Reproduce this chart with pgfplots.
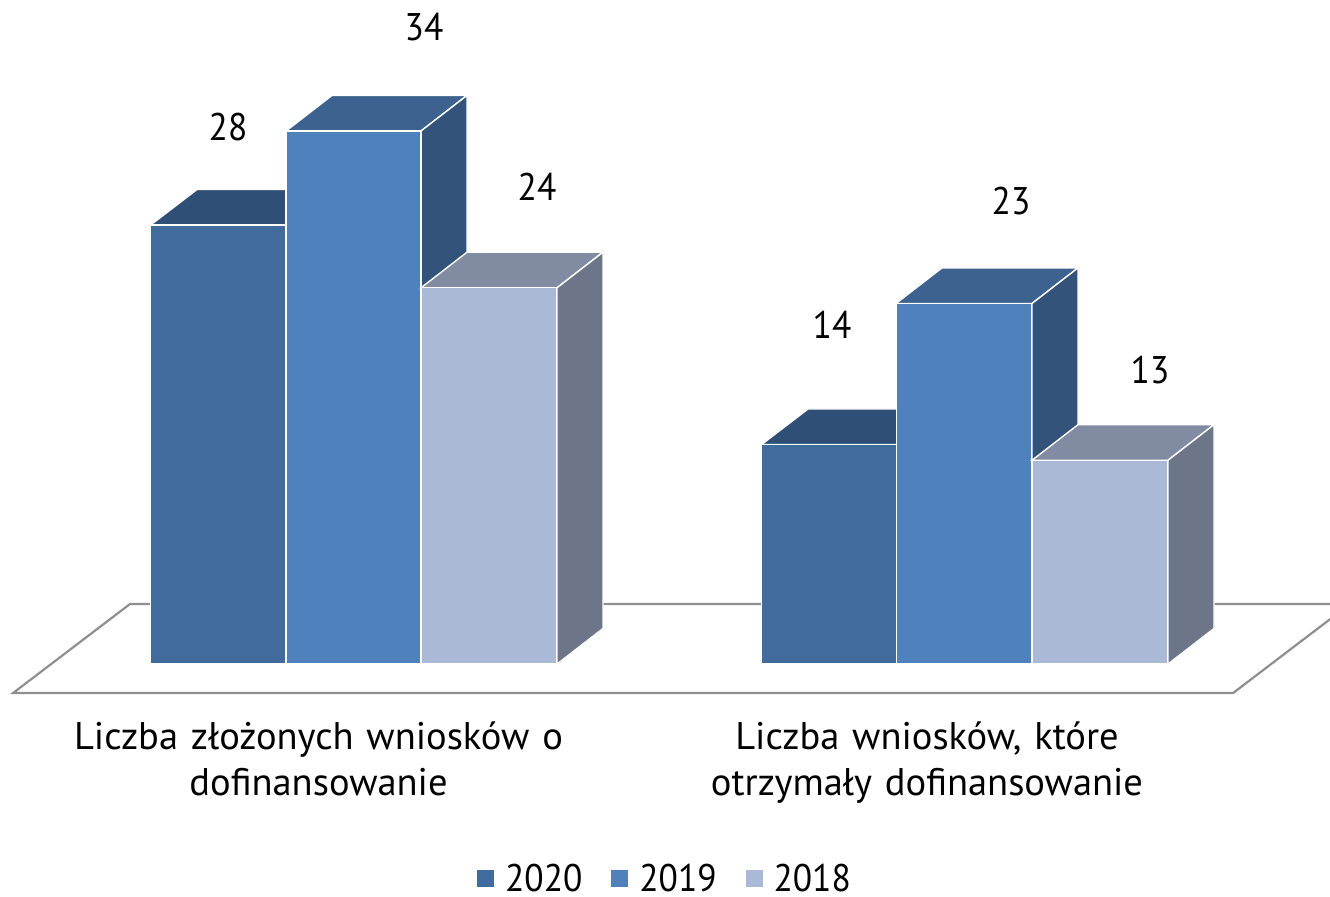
\documentclass[border=0pt]{standalone}
\usepackage{fontspec}
\setmainfont{PT Sans}[FakeStretch=0.92]
\newfontfamily\catfont{PT Sans}
\usepackage{pgfplots}
\pgfplotsset{compat=1.18}

\definecolor{front20}{HTML}{416B9C}
\definecolor{top20}{HTML}{2F4F76}
\definecolor{side20}{HTML}{2F4F76}
\definecolor{front19}{HTML}{4F81BD}
\definecolor{top19}{HTML}{3E628F}
\definecolor{side19}{HTML}{33537B}
\definecolor{front18}{HTML}{AAB9D6}
\definecolor{top18}{HTML}{818CA3}
\definecolor{side18}{HTML}{6C7688}
\definecolor{floorline}{HTML}{8F8F8F}

\newcommand{\chartfont}{\fontsize{38.5}{46.5}\selectfont}

\begin{document}
\begin{tikzpicture}
\begin{axis}[
    scale only axis,
    width=1330pt,
    height=896pt,
    xmin=0, xmax=1330,
    ymin=-14.8, ymax=42.35,
    axis line style={draw=none},
    ytick=\empty,
    xtick={318.5,927},
    xticklabels={{Liczba złożonych wniosków o\\dofinansowanie},{Liczba wniosków, które\\otrzymały dofinansowanie}},
    major tick length=0pt,
    x tick label style={font=\catfont\chartfont, align=center, text width=560pt, anchor=north, yshift=178pt},
    legend style={at={(0.5,0.02)}, anchor=center, draw=none, fill=none, font=\chartfont,
        legend columns=3,
        /tikz/every even column/.append style={column sep=27pt},
        /tikz/every odd column/.append style={column sep=9pt}},
    legend image code/.code={\path[#1,draw=none] (0pt,-9pt) rectangle (17pt,8pt);},
]
% floor of the 3D box
\addplot[forget plot, draw=floorline, line width=2.2pt] coordinates {(13,-1.85)(130,3.83)(1350,3.83)(1233,-1.85)} -- cycle;

% 2020
\addplot[forget plot, fill=top20, draw=white, line width=1.4pt] coordinates {(150.5,28)(197,30.27)(332,30.27)(286,28)} -- cycle;
\addplot[forget plot, fill=top20, draw=white, line width=1.4pt] coordinates {(761.5,14)(808,16.27)(942,16.27)(896,14)} -- cycle;
\addplot[ybar, bar width=135.5pt, bar shift=0pt, fill=front20, draw=white, line width=1.4pt] coordinates {(218.5,28)(829,14)};
\addlegendentry{2020}

% 2019
\addplot[forget plot, fill=top19, draw=white, line width=1.4pt] coordinates {(286,34)(332,36.27)(467,36.27)(421,34)} -- cycle;
\addplot[forget plot, fill=side19, draw=white, line width=1.4pt] coordinates {(421,34)(467,36.27)(467,2.27)(421,0)} -- cycle;
\addplot[forget plot, fill=top19, draw=white, line width=1.4pt] coordinates {(896,23)(942,25.27)(1078,25.27)(1032,23)} -- cycle;
\addplot[forget plot, fill=side19, draw=white, line width=1.4pt] coordinates {(1032,23)(1078,25.27)(1078,2.27)(1032,0)} -- cycle;
\addplot[ybar, bar width=135pt, bar shift=0pt, fill=front19, draw=white, line width=1.4pt] coordinates {(353.5,34)(964,23)};
\addlegendentry{2019}

% 2018
\addplot[forget plot, fill=top18, draw=white, line width=1.4pt] coordinates {(421,24)(467,26.27)(603,26.27)(557,24)} -- cycle;
\addplot[forget plot, fill=side18, draw=white, line width=1.4pt] coordinates {(557,24)(603,26.27)(603,2.27)(557,0)} -- cycle;
\addplot[forget plot, fill=top18, draw=white, line width=1.4pt] coordinates {(1032,13)(1078,15.27)(1214,15.27)(1168,13)} -- cycle;
\addplot[forget plot, fill=side18, draw=white, line width=1.4pt] coordinates {(1168,13)(1214,15.27)(1214,2.27)(1168,0)} -- cycle;
\addplot[ybar, bar width=135pt, bar shift=0pt, fill=front18, draw=white, line width=1.4pt] coordinates {(489,24)(1100,13)};
\addlegendentry{2018}

% value labels, placed where the reference has them
\addplot[forget plot, draw=none, point meta=explicit symbolic, nodes near coords,
    every node near coord/.append style={anchor=center, inner sep=0pt, font=\chartfont, text=black}]
    coordinates {
    (228,34.25) [28]
    (424,40.63) [34]
    (537,30.42) [24]
    (832,21.62) [14]
    (1011,29.52) [23]
    (1150,18.75) [13]
};
\end{axis}
\end{tikzpicture}
\end{document}
